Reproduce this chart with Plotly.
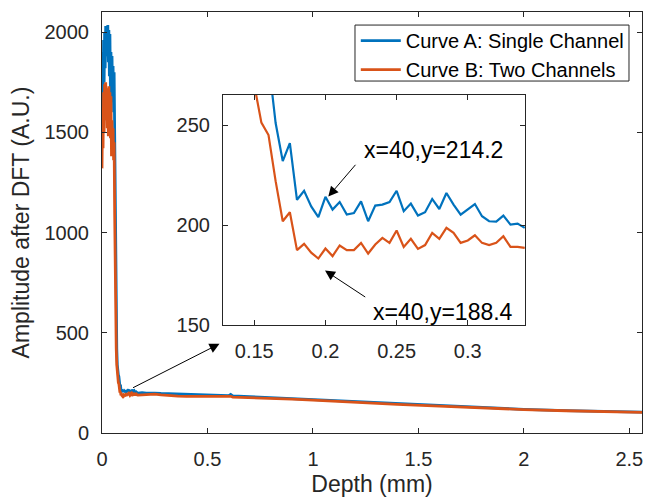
import plotly.graph_objects as go

FONT = 'Liberation Sans, Arial, sans-serif'
INK = '#262626'
BLUE = '#0072BD'
ORANGE = '#D95319'
POST_SCRIPT = "document.body.style.margin = '0'; document.body.style.overflow = 'hidden';"

# sampled amplitudes, sample index 0..68
blue_near = [
    1500, 1900, 1620, 1960, 1750, 2000, 1820, 2030, 1880, 2020,
    1900, 2035, 1850, 2010, 1780, 1990, 1700, 1900, 1680, 1880,
    1650, 1830, 1600, 1800, 1500, 1150, 780, 560, 420, 340,
    300, 290, 282, 251, 232, 241, 212.7, 217.2, 209.4, 204.1,
    214.2, 207.8, 211.6, 205.3, 206.1, 211.9, 202.0, 209.8, 210.3, 211.6,
    217.2, 207.0, 210.8, 204.8, 206.5, 213.1, 208.1, 216.1, 210.3, 205.3,
    208.1, 210.6, 204.5, 202.0, 201.8, 204.8, 200.3, 200.8, 198.7,
]
orange_near = [
    1320, 1600, 1420, 1700, 1500, 1740, 1560, 1750, 1600, 1720,
    1520, 1700, 1480, 1730, 1500, 1700, 1470, 1680, 1380, 1560,
    1400, 1520, 1360, 1450, 1100, 800, 560, 420, 340, 295,
    270, 251.2, 245.0, 222, 202.0, 206.5, 187.6, 190.7, 186.3, 183.4,
    188.4, 184.6, 189.9, 187.6, 187.6, 191.2, 185.9, 190.4, 193.7, 191.2,
    197.4, 189.2, 193.2, 188.2, 190.1, 196.2, 193.2, 198.7, 196.2, 191.2,
    192.4, 195.0, 191.2, 190.1, 191.2, 194.5, 189.2, 189.2, 188.7,
]

# slowly decaying tail in the main view
tail_depth = [0.19, 0.21, 0.23, 0.25, 0.28, 0.32, 0.36, 0.40, 0.45, 0.50,
              0.55, 0.60, 0.61, 0.62, 0.70, 0.80, 0.90, 1.00, 1.10, 1.20,
              1.40, 1.60, 1.80, 2.00, 2.20, 2.40, 2.56]
blue_tail = [201, 199, 200, 199, 197, 196, 195, 193, 191, 189,
             187, 186, 192, 185, 181, 176, 171, 166, 160, 155,
             145, 135, 126, 118, 112, 107, 104]
orange_tail = [190, 191, 193, 194, 190, 186, 184, 183, 183, 182,
               180, 180, 183, 179, 177, 173, 169, 164, 158, 153,
               143, 134, 125, 117, 111, 106, 103]

MAIN_STEP = 0.0025   # depth per sample in the main view
INSET_STEP = 0.005   # depth per sample in the zoomed view
INSET_START = 26

main_depth = [i * MAIN_STEP for i in range(len(blue_near))] + tail_depth
inset_depth = [i * INSET_STEP for i in range(INSET_START, len(blue_near))]

fig = go.Figure()
fig.add_trace(go.Scatter(x=main_depth, y=blue_near + blue_tail, name='Curve A: Single Channel',
                         mode='lines', line=dict(color=BLUE, width=2.8)))
fig.add_trace(go.Scatter(x=main_depth, y=orange_near + orange_tail, name='Curve B: Two Channels',
                         mode='lines', line=dict(color=ORANGE, width=2.8)))
fig.add_trace(go.Scatter(x=inset_depth, y=blue_near[INSET_START:], mode='lines', showlegend=False,
                         line=dict(color=BLUE, width=2.2), xaxis='x2', yaxis='y2'))
fig.add_trace(go.Scatter(x=inset_depth, y=orange_near[INSET_START:], mode='lines', showlegend=False,
                         line=dict(color=ORANGE, width=2.2), xaxis='x2', yaxis='y2'))

axis_style = dict(showline=True, mirror='ticks', linecolor=INK, linewidth=1, ticks='inside',
                  ticklen=5, tickcolor=INK, showgrid=False, zeroline=False, automargin=False,
                  tickfont=dict(size=20, color=INK))

fig.update_layout(
    width=645, height=498,
    margin=dict(l=102, r=3, t=12, b=65),
    paper_bgcolor='white', plot_bgcolor='white',
    font=dict(family=FONT, color=INK),
    xaxis=dict(range=[0, 2.56], tickvals=[0, 0.5, 1, 1.5, 2, 2.5], ticktext=['0', '0.5', '1', '1.5', '2', '2.5'],
               title=dict(text='Depth (mm)', font=dict(size=23), standoff=6),
               ticklabelstandoff=8, **axis_style),
    yaxis=dict(range=[0, 2100], tickvals=[0, 500, 1000, 1500, 2000],
               title=dict(text='Amplitude after DFT (A.U.)', font=dict(size=23), standoff=8),
               ticklabelstandoff=8, **axis_style),
    xaxis2=dict(domain=[0.224, 0.7836], anchor='y2', range=[0.128, 0.3403],
                tickvals=[0.15, 0.2, 0.25, 0.3], ticktext=['0.15', '0.2', '0.25', '0.3'],
                ticklabelstandoff=8, **axis_style),
    yaxis2=dict(domain=[0.2554, 0.803], anchor='x2', range=[150, 265], tickvals=[150, 200, 250],
                ticklabelstandoff=8, **axis_style),
    legend=dict(x=0.47, y=0.9785, xanchor='left', yanchor='top', bgcolor='rgba(0,0,0,0)',
                borderwidth=0, itemwidth=40, font=dict(size=20, color='black'),
                tracegroupgap=0),
    showlegend=True,
)

# legend frame
fig.add_shape(type='rect', xref='paper', yref='paper', x0=0.4685, x1=0.9759, y0=0.836, y1=0.969,
              line=dict(color=INK, width=1), fillcolor='white', layer='below')

arrow = dict(showarrow=True, arrowhead=2, arrowsize=2, arrowwidth=1, arrowcolor='black',
             text='', standoff=0)
fig.add_annotation(x=0.557, y=445, ax=0.14, ay=222, xref='x', yref='y', axref='x', ayref='y', **arrow)
fig.add_annotation(x=0.202, y=214.3, ax=0.222, ay=230.9, xref='x2', yref='y2', axref='x2', ayref='y2', **arrow)
fig.add_annotation(x=0.1997, y=177.4, ax=0.229, ay=163.7, xref='x2', yref='y2', axref='x2', ayref='y2', **arrow)
fig.add_annotation(x=0.2756, y=237.5, xref='x2', yref='y2', text='x=40,y=214.2', showarrow=False,
                   font=dict(size=23, color='black'))
fig.add_annotation(x=0.2823, y=156.8, xref='x2', yref='y2', text='x=40,y=188.4', showarrow=False,
                   font=dict(size=23, color='black'))

fig.write_html('out.html', config={'displayModeBar': False}, post_script=[POST_SCRIPT])
